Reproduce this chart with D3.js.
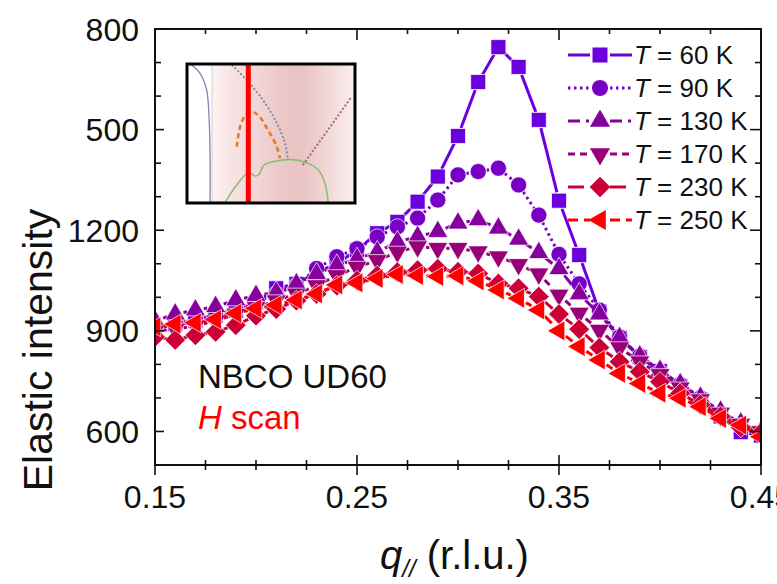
<!DOCTYPE html>
<html>
<head>
<meta charset="utf-8">
<script src="https://cdn.jsdelivr.net/npm/d3@7"></script>
<style>
  body { margin: 0; background: #fff; }
  svg { display: block; font-family: "Liberation Sans", Arial, sans-serif; }
</style>
</head>
<body>
<div id="chart"></div>
<script>
// data
var qValues = [0.15, 0.16, 0.17, 0.18, 0.19, 0.20, 0.21, 0.22, 0.23, 0.24, 0.25,
               0.26, 0.27, 0.28, 0.29, 0.30, 0.31, 0.32, 0.33, 0.34, 0.35,
               0.36, 0.37, 0.38, 0.39, 0.40, 0.41, 0.42, 0.43, 0.44, 0.45];

var int60K  = [905, 920, 930, 945, 960, 985, 1027, 1040, 1075, 1100, 1141,
               1191, 1225, 1285, 1360, 1481, 1642, 1746, 1687, 1529, 1288,
               1126, 957, 879, 822, 780, 735, 695, 645, 598, 588];
var int90K  = [910, 925, 935, 948, 965, 985, 1010, 1035, 1086, 1121, 1145,
               1180, 1210, 1236, 1290, 1365, 1375, 1385, 1335, 1245, 1128,
               1040, 962, 882, 825, 778, 740, 700, 655, 618, 595];
var int130K = [930, 950, 962, 972, 992, 1005, 1015, 1040, 1070, 1095, 1115,
               1135, 1165, 1181, 1196, 1221, 1231, 1206, 1173, 1133, 1085,
               1010, 950, 880, 825, 782, 742, 702, 660, 625, 600];
var int170K = [900, 905, 915, 930, 950, 970, 990, 1010, 1035, 1065, 1090,
               1110, 1135, 1151, 1146, 1146, 1136, 1121, 1098, 1070, 1007,
               953, 902, 850, 808, 770, 730, 695, 655, 622, 600];
var int230K = [882, 873, 887, 897, 917, 945, 965, 990, 1010, 1035, 1050,
               1065, 1075, 1081, 1085, 1076, 1071, 1041, 1027, 1002, 950,
               905, 850, 808, 778, 748, 714, 680, 645, 612, 596];
var int250K = [912, 920, 924, 934, 952, 967, 977, 992, 1010, 1037, 1043,
               1056, 1068, 1065, 1062, 1064, 1049, 1022, 997, 962, 900,
               853, 813, 773, 743, 714, 699, 674, 639, 619, 584];

var temps = ["60", "90", "130", "170", "230", "250"];

var xTickValues = [0.15, 0.25, 0.35, 0.45];
var xTickLabels = ["0.15", "0.25", "0.35", "0.45"];
var yTickValues = [600, 900, 1200, 1500, 1800];
var yTickLabels = ["600", "900", "1200", "500", "800"];

// inset sketch, in unit coords of the inset box
var insetPurple = [[0.018, 0], [0.077, 0.065], [0.117, 0.187], [0.131, 0.379], [0.137, 0.62], [0.137, 1]];
var insetOrange = [[0.296, 0.595], [0.326, 0.415], [0.375, 0.343], [0.423, 0.367], [0.482, 0.475], [0.534, 0.595], [0.554, 0.678]];
var insetBlue   = [[0.266, 0.007], [0.355, 0.115], [0.452, 0.259], [0.534, 0.424], [0.583, 0.568], [0.601, 0.691]];
var insetBrown  = [[0.690, 0.727], [0.980, 0.235]];
var insetGreen  = [[0.226, 1.0], [0.296, 0.871], [0.365, 0.782], [0.405, 0.806], [0.431, 0.791], [0.458, 0.727],
                   [0.534, 0.698], [0.613, 0.686], [0.712, 0.710], [0.782, 0.763], [0.821, 0.858], [0.841, 1.0]];
var insetRedLine = 0.365;
var insetWhiteEdge = 0.149;

// styles
var colors = ["#6a00dc", "#7700c4", "#86009e", "#970076", "#cc0036", "#ff0000"];
var symbolTypes = [d3.symbolSquare, d3.symbolCircle, d3.symbolTriangle, d3.symbolTriangle, d3.symbolSquare, d3.symbolTriangle];
var symbolRot = [0, 0, 0, 180, 45, -90];
var symbolSize = [225, 205, 175, 175, 215, 175];
var dashes = [null, "2.5,3.5", "12,6,3,6", "7,5", "16,6", "10,6"];

var width = 777, height = 584;
var margin = {top: 29, right: 16, bottom: 119, left: 155};

var svg = d3.select("#chart").append("svg")
  .attr("width", width)
  .attr("height", height);

var x = d3.scaleLinear().domain([0.15, 0.45]).range([margin.left, width - margin.right]);
var y = d3.scaleLinear().domain([500, 1800]).range([height - margin.bottom, margin.top]);

var x0 = x.range()[0], x1 = x.range()[1], y0 = y.range()[1], y1 = y.range()[0];

var defs = svg.append("defs");
defs.append("clipPath").attr("id", "plotClip").append("rect")
  .attr("x", x0).attr("y", y0).attr("width", x1 - x0).attr("height", y1 - y0);

// ---- inset ----
var ix = d3.scaleLinear().domain([0, 1]).range([187, 355]);
var iy = d3.scaleLinear().domain([0, 1]).range([64, 203]);

var grad = defs.append("linearGradient").attr("id", "pink").attr("x1", "0").attr("x2", "1").attr("y1", "0").attr("y2", "0");
[[0, "#fcf2f2"], [0.15, "#f7e2e2"], [0.35, "#f1d3d3"], [0.5, "#ebc6c6"], [0.62, "#eac3c3"],
 [0.78, "#f1d4d4"], [1, "#fbefef"]].forEach(function (s) {
  grad.append("stop").attr("offset", s[0]).attr("stop-color", s[1]);
});
defs.append("clipPath").attr("id", "insetClip").append("rect")
  .attr("x", ix(0)).attr("y", iy(0)).attr("width", ix(1) - ix(0)).attr("height", iy(1) - iy(0));

var inset = svg.append("g").attr("clip-path", "url(#insetClip)");
inset.append("rect").attr("x", ix(0)).attr("y", iy(0)).attr("width", ix(1) - ix(0)).attr("height", iy(1) - iy(0)).attr("fill", "#fff");
inset.append("rect").attr("x", ix(insetWhiteEdge)).attr("y", iy(0))
  .attr("width", ix(1) - ix(insetWhiteEdge)).attr("height", iy(1) - iy(0)).attr("fill", "url(#pink)");
inset.append("line").attr("x1", ix(insetWhiteEdge)).attr("x2", ix(insetWhiteEdge)).attr("y1", iy(0)).attr("y2", iy(1))
  .attr("stroke", "#d0d0d8").attr("stroke-width", 1);

var iline = d3.line().x(function (d) { return ix(d[0]); }).y(function (d) { return iy(d[1]); }).curve(d3.curveCatmullRom);
inset.append("path").attr("d", iline(insetPurple)).attr("fill", "none").attr("stroke", "#8a80b0").attr("stroke-width", 1.3);
inset.append("path").attr("d", iline(insetGreen)).attr("fill", "none").attr("stroke", "#8cbf6e").attr("stroke-width", 1.6);
inset.append("path").attr("d", iline(insetBlue)).attr("fill", "none").attr("stroke", "#7a86a8").attr("stroke-width", 1.8).attr("stroke-dasharray", "2,2");
inset.append("path").attr("d", iline(insetBrown)).attr("fill", "none").attr("stroke", "#a06a78").attr("stroke-width", 2).attr("stroke-dasharray", "2,2");
inset.append("path").attr("d", iline(insetOrange)).attr("fill", "none").attr("stroke", "#e67a2a").attr("stroke-width", 2.6).attr("stroke-dasharray", "5,3.5");
inset.append("line").attr("x1", ix(insetRedLine)).attr("x2", ix(insetRedLine)).attr("y1", iy(0)).attr("y2", iy(1))
  .attr("stroke", "#ff0000").attr("stroke-width", 5);
svg.append("rect").attr("x", ix(0)).attr("y", iy(0)).attr("width", ix(1) - ix(0)).attr("height", iy(1) - iy(0))
  .attr("fill", "none").attr("stroke", "#000").attr("stroke-width", 3);

// ---- series ----
var series = [int60K, int90K, int130K, int170K, int230K, int250K];
var gap = 8.5;
var plotArea = svg.append("g").attr("clip-path", "url(#plotClip)");

function symbolPath(k) {
  return d3.symbol().type(symbolTypes[k]).size(symbolSize[k])();
}

series.forEach(function (vals, k) {
  var g = plotArea.append("g").attr("class", "series-" + temps[k]);
  var pts = vals.map(function (v, i) { return [x(qValues[i]), y(v)]; });
  var segs = [];
  for (var i = 0; i < pts.length - 1; i++) {
    var dx = pts[i + 1][0] - pts[i][0], dy = pts[i + 1][1] - pts[i][1];
    var len = Math.sqrt(dx * dx + dy * dy);
    if (len <= 2 * gap) continue;
    var ux = dx / len, uy = dy / len;
    segs.push([pts[i][0] + ux * gap, pts[i][1] + uy * gap, pts[i + 1][0] - ux * gap, pts[i + 1][1] - uy * gap]);
  }
  g.selectAll("line.seg").data(segs).enter().append("line")
    .attr("class", "seg")
    .attr("x1", function (d) { return d[0]; }).attr("y1", function (d) { return d[1]; })
    .attr("x2", function (d) { return d[2]; }).attr("y2", function (d) { return d[3]; })
    .attr("stroke", colors[k]).attr("stroke-width", 3)
    .attr("stroke-dasharray", dashes[k]);
  g.selectAll("path.dot").data(vals).enter().append("path")
    .attr("class", "dot")
    .attr("d", symbolPath(k))
    .attr("transform", function (d, i) {
      return "translate(" + x(qValues[i]) + "," + y(d) + ") rotate(" + symbolRot[k] + ")";
    })
    .attr("fill", colors[k])
    .attr("stroke", "#fff").attr("stroke-width", 0.7);
});

// ---- frame and ticks ----
svg.append("rect").attr("x", x0).attr("y", y0).attr("width", x1 - x0).attr("height", y1 - y0)
  .attr("fill", "none").attr("stroke", "#111").attr("stroke-width", 2);

var xMinor = d3.range(0.15, 0.4501, 0.025);
var yMinor = d3.range(500, 1801, 100);
function isMajorX(v) { return xTickValues.some(function (t) { return Math.abs(t - v) < 1e-6; }); }
function isMajorY(v) { return yTickValues.indexOf(Math.round(v)) >= 0; }

var ticks = svg.append("g").attr("stroke", "#111").attr("stroke-width", 1.6);
xMinor.forEach(function (v) {
  var L = isMajorX(v) ? 10 : 5;
  // bottom: in and out
  ticks.append("line").attr("x1", x(v)).attr("x2", x(v)).attr("y1", y1 - L).attr("y2", y1 + L);
  // top: inward
  ticks.append("line").attr("x1", x(v)).attr("x2", x(v)).attr("y1", y0).attr("y2", y0 + (isMajorX(v) ? 11 : 5));
});
yMinor.forEach(function (v) {
  var L = isMajorY(v) ? 9 : 6;
  ticks.append("line").attr("x1", x0).attr("x2", x0 + L).attr("y1", y(v)).attr("y2", y(v));
  ticks.append("line").attr("x1", x1).attr("x2", x1 - (isMajorY(v) ? 11 : 6)).attr("y1", y(v)).attr("y2", y(v));
});

// tick labels
svg.append("g").selectAll("text").data(xTickValues).enter().append("text")
  .attr("x", function (d) { return x(d); })
  .attr("y", 508)
  .attr("text-anchor", "middle")
  .attr("font-size", 32)
  .attr("fill", "#111")
  .text(function (d, i) { return xTickLabels[i]; });

svg.append("g").selectAll("text").data(yTickValues).enter().append("text")
  .attr("x", 139)
  .attr("y", function (d) { return y(d); })
  .attr("dy", "0.36em")
  .attr("text-anchor", "end")
  .attr("font-size", 32)
  .attr("fill", "#111")
  .text(function (d, i) { return yTickLabels[i]; });

// axis titles
svg.append("text")
  .attr("transform", "translate(52,350) rotate(-90)")
  .attr("text-anchor", "middle")
  .attr("font-size", 41)
  .attr("fill", "#111")
  .text("Elastic intensity");

var xt = svg.append("text").attr("x", 380).attr("y", 569).attr("font-size", 40).attr("fill", "#111");
xt.append("tspan").attr("font-style", "italic").text("q");
xt.append("tspan").attr("font-style", "italic").attr("font-size", 24).attr("dy", 8).text("//");
xt.append("tspan").attr("dy", -8).text(" (r.l.u.)");

// annotation
svg.append("text").attr("x", 198).attr("y", 388).attr("font-size", 33).attr("fill", "#111").text("NBCO UD60");
var hs = svg.append("text").attr("x", 198).attr("y", 429).attr("font-size", 33).attr("fill", "#ff0000");
hs.append("tspan").attr("font-style", "italic").text("H");
hs.append("tspan").text(" scan");

// ---- legend ----
var legRowY = d3.scaleLinear().domain([0, 5]).range([55, 220]);
var leg = svg.append("g").attr("class", "legend");
temps.forEach(function (t, k) {
  var cy = legRowY(k);
  var row = leg.append("g");
  [[568, 590], [610, 632]].forEach(function (s) {
    row.append("line").attr("x1", s[0]).attr("x2", s[1]).attr("y1", cy).attr("y2", cy)
      .attr("stroke", colors[k]).attr("stroke-width", 3).attr("stroke-dasharray", dashes[k]);
  });
  row.append("path").attr("d", symbolPath(k))
    .attr("transform", "translate(600," + cy + ") rotate(" + symbolRot[k] + ")")
    .attr("fill", colors[k]);
  var tx = row.append("text").attr("x", 634).attr("y", cy + 9).attr("font-size", 26).attr("fill", "#111");
  tx.append("tspan").attr("font-style", "italic").text("T");
  tx.append("tspan").text(" = " + t + " K");
});
</script>
</body>
</html>
